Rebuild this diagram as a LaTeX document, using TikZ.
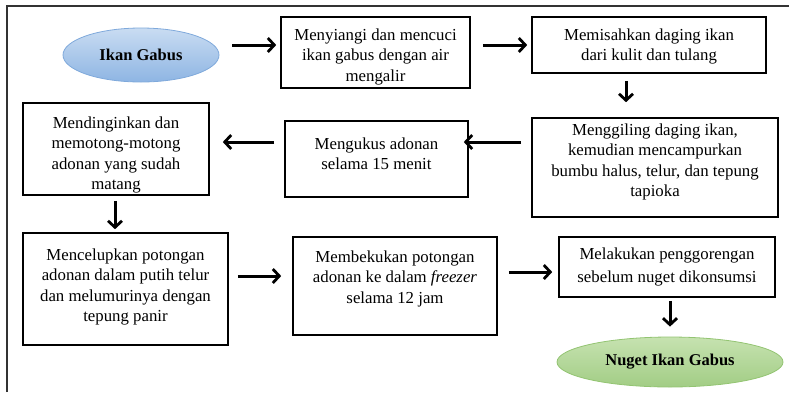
\documentclass[tikz,border=0pt]{standalone}
\usepackage{fontspec}
\setmainfont{Liberation Serif}
\usetikzlibrary{arrows.meta,shapes.geometric}
\definecolor{frameline}{HTML}{333333}
\definecolor{bluetop}{HTML}{C9DCF2}
\definecolor{bluebot}{HTML}{8EB5E3}
\definecolor{blueedge}{HTML}{7FA9DB}
\definecolor{greentop}{HTML}{C6E2B0}
\definecolor{greenbot}{HTML}{A2CD85}
\definecolor{greenedge}{HTML}{93C472}
\tikzset{
  stepbox/.style={draw=black, line width=1.6pt, rectangle, inner sep=0pt},
  steptext/.style={anchor=north, align=center, inner sep=0pt,
    font=\fontsize{16.8}{20.5}\selectfont},
  terminal/.style={ellipse, inner sep=0pt, font=\fontsize{16.5}{20}\selectfont\bfseries},
  flow/.style={line width=3pt, -{Straight Barb[length=6.5pt,width=14pt,line width=2.8pt]}},
}
\begin{document}
\begin{tikzpicture}[x=1pt,y=-1pt]
\useasboundingbox (0,0) rectangle (789,392);
% outer frame (top and left edges)
\draw[frameline, line width=1.3pt] (7,392) -- (7,6) -- (789,6);

% start and end terminals
\node[terminal, top color=bluetop, bottom color=bluebot, draw=blueedge, line width=0.8pt,
  minimum width=156, minimum height=54] (start) at (141,55) {Ikan Gabus};
\node[terminal, top color=greentop, bottom color=greenbot, draw=greenedge, line width=0.8pt,
  minimum width=226, minimum height=50] (finish) at (670,362) {Nuget Ikan Gabus};

% process boxes
\node[stepbox, minimum width=189, minimum height=71] (b1) at (375.5,52.5) {};
\node[stepbox, minimum width=234, minimum height=56] (b2) at (649,45) {};
\node[stepbox, minimum width=246, minimum height=99] (b3) at (655,167.5) {};
\node[stepbox, minimum width=183, minimum height=76] (b4) at (376.5,159) {};
\node[stepbox, minimum width=186, minimum height=92] (b5) at (116,149) {};
\node[stepbox, minimum width=205, minimum height=112] (b6) at (125.5,289) {};
\node[stepbox, minimum width=204, minimum height=98] (b7) at (395,286) {};
\node[stepbox, minimum width=216, minimum height=60] (b8) at (667,267) {};

% box texts
\node[steptext] (t1) at ([yshift=-12pt]b1.north) {Menyiangi dan mencuci\\ikan gabus dengan air\\mengalir};
\node[steptext] (t2) at ([yshift=-12pt]b2.north) {Memisahkan daging ikan\\dari kulit dan tulang};
\node[steptext] (t3) at ([yshift=-6pt]b3.north) {Menggiling daging ikan,\\kemudian mencampurkan\\bumbu halus, telur, dan tepung\\tapioka};
\node[steptext] (t4) at ([yshift=-17pt]b4.north) {Mengukus adonan\\selama 15 menit};
\node[steptext] (t5) at ([yshift=-14pt]b5.north) {Mendinginkan dan\\memotong-motong\\adonan yang sudah\\matang};
\node[steptext] (t6) at ([yshift=-16pt]b6.north) {Mencelupkan potongan\\adonan dalam putih telur\\dan melumurinya dengan\\tepung panir};
\node[steptext] (t7) at ([yshift=-14pt]b7.north) {Membekukan potongan\\adonan ke dalam \textit{freezer}\\selama 12 jam};
\node[steptext, font=\fontsize{16.8}{23.5}\selectfont] (t8) at ([yshift=-11pt]b8.north) {Melakukan penggorengan\\sebelum nuget dikonsumsi};

% flow arrows
\draw[flow] ([xshift=13pt,yshift=10pt]start.east) -- ([xshift=-4pt,yshift=7.5pt]b1.west);
\draw[flow] ([xshift=12pt,yshift=7.5pt]b1.east) -- ([xshift=-4pt]b2.west);
\draw[flow] ([xshift=-23pt,yshift=-7pt]b2.south) -- ([xshift=-29pt,yshift=15pt]b3.north);
\draw[flow] ([xshift=-10pt,yshift=25.5pt]b3.west) -- ([xshift=-5pt,yshift=17pt]b4.east);
\draw[flow] ([xshift=-10pt,yshift=17pt]b4.west) -- ([xshift=13pt,yshift=7pt]b5.east);
\draw[flow] ([xshift=-1pt,yshift=-5pt]b5.south) -- ([xshift=-10.5pt,yshift=3pt]b6.north);
\draw[flow] ([xshift=9pt,yshift=13pt]b6.east) -- ([xshift=-11pt,yshift=10pt]b7.west);
\draw[flow] ([xshift=11pt,yshift=14pt]b7.east) -- ([xshift=-6pt,yshift=-5pt]b8.west);
\draw[flow] ([xshift=3pt,yshift=-3pt]b8.south) -- ([yshift=10pt]finish.north);
\end{tikzpicture}
\end{document}
